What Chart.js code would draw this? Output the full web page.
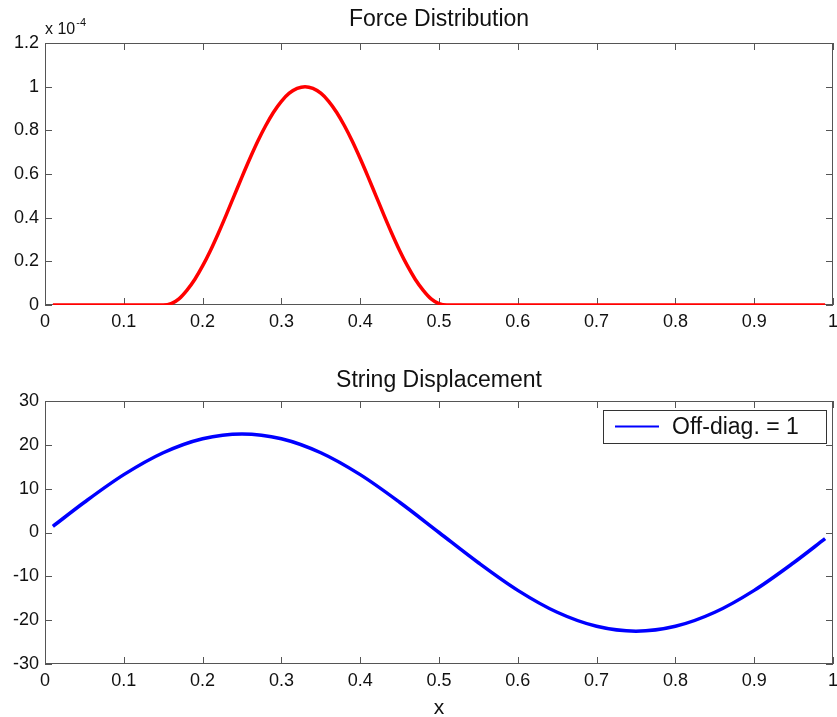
<!DOCTYPE html>
<html>
<head>
<meta charset="utf-8">
<script src="https://cdn.jsdelivr.net/npm/chart.js@4.4.0/dist/chart.umd.min.js"></script>
<style>
  html, body { margin: 0; padding: 0; background: #fff; }
  #wrap { position: relative; width: 837px; height: 717px; }
  canvas { position: absolute; left: 0; }
  #c1 { top: 0; }
  #c2 { top: 345px; }
</style>
</head>
<body>
<div id="wrap">
  <canvas id="c1" width="837" height="345"></canvas>
  <canvas id="c2" width="837" height="372"></canvas>
</div>
<script>
// ---- data ----
const forceTitle = "Force Distribution";
const forceX = [0.01, 0.15, 0.16, 0.17, 0.18, 0.19, 0.20, 0.21, 0.22, 0.23, 0.24, 0.25, 0.26, 0.27, 0.28, 0.29, 0.30, 0.31, 0.32, 0.33,
                0.34, 0.35, 0.36, 0.37, 0.38, 0.39, 0.40, 0.41, 0.42, 0.43, 0.44, 0.45, 0.46, 0.47, 0.48, 0.49, 0.50, 0.51, 0.99];
// values in units of 1e-4
const forceY = [0, 0, 0.006, 0.028, 0.067, 0.117, 0.179, 0.25, 0.329, 0.413, 0.5, 0.587, 0.671, 0.75, 0.821, 0.883, 0.933, 0.97, 0.992, 1,
                0.992, 0.97, 0.933, 0.883, 0.821, 0.75, 0.671, 0.587, 0.5, 0.413, 0.329, 0.25, 0.179, 0.117, 0.067, 0.028, 0.006, 0, 0];
const forceExponent = "-4";

const dispTitle = "String Displacement";
const dispLabel = "Off-diag. = 1";
const dispX = [0.01, 0.05, 0.10, 0.15, 0.20, 0.25, 0.30, 0.35, 0.40, 0.45, 0.50, 0.55, 0.60, 0.65, 0.70, 0.75, 0.80, 0.85, 0.90, 0.95, 0.99];
const dispY = [1.4, 6.9, 13.2, 18.2, 21.4, 22.5, 21.4, 18.2, 13.2, 6.9, 0, -6.9, -13.2, -18.2, -21.4, -22.5, -21.4, -18.2, -13.2, -6.9, -1.4];
const xAxisLabel = "x";

// ---- styling ----
const FONT = "'Liberation Sans', Arial, Helvetica, sans-serif";
Chart.defaults.font.family = FONT;
Chart.defaults.font.size = 18;
Chart.defaults.color = '#111';
const AXIS = '#555';

const fmt = v => String(parseFloat(Number(v).toFixed(2)));

const decoPlugin = {
  id: 'deco',
  beforeDatasetsDraw(chart, args, opts) {
    const { ctx, chartArea: a, scales: { x, y } } = chart;
    ctx.save();
    ctx.strokeStyle = AXIS;
    ctx.lineWidth = 1;
    ctx.strokeRect(Math.round(a.left) + 0.5, Math.round(a.top) + 0.5, Math.round(a.width) - 1, Math.round(a.height) - 1);
    const L = 7;
    ctx.beginPath();
    x.ticks.forEach(t => {
      const px = Math.round(x.getPixelForValue(t.value)) + 0.5;
      ctx.moveTo(px, a.bottom); ctx.lineTo(px, a.bottom - L);
      ctx.moveTo(px, a.top); ctx.lineTo(px, a.top + L);
    });
    y.ticks.forEach(t => {
      const py = Math.round(y.getPixelForValue(t.value)) + 0.5;
      ctx.moveTo(a.left, py); ctx.lineTo(a.left + L, py);
      ctx.moveTo(a.right, py); ctx.lineTo(a.right - L, py);
    });
    ctx.stroke();
    ctx.restore();
  },
  afterDraw(chart, args, opts) {
    const { ctx, chartArea: a } = chart;
    ctx.save();
    ctx.fillStyle = '#111';
    ctx.textAlign = 'center';
    ctx.textBaseline = 'middle';
    ctx.font = '23px ' + FONT;
    ctx.fillText(opts.title, (a.left + a.right) / 2, opts.titleY);
    if (opts.exponent) {
      ctx.textAlign = 'left';
      ctx.textBaseline = 'alphabetic';
      ctx.font = '16px ' + FONT;
      ctx.fillText('x 10', a.left, 34);
      const w = ctx.measureText('x 10').width;
      ctx.font = '11px ' + FONT;
      ctx.fillText(opts.exponent, a.left + w + 1, 26);
    }
    if (opts.legend) {
      const ds = chart.data.datasets[0];
      const bx = 603, by = 65, bw = 223, bh = 33;
      ctx.fillStyle = '#fff';
      ctx.fillRect(bx, by, bw, bh);
      ctx.strokeStyle = '#333';
      ctx.lineWidth = 1;
      ctx.strokeRect(bx + 0.5, by + 0.5, bw, bh);
      const cy = by + bh / 2;
      ctx.strokeStyle = ds.borderColor;
      ctx.lineWidth = 2;
      ctx.beginPath();
      ctx.moveTo(615, cy); ctx.lineTo(659, cy);
      ctx.stroke();
      ctx.fillStyle = '#111';
      ctx.textAlign = 'left';
      ctx.textBaseline = 'middle';
      ctx.font = '23px ' + FONT;
      ctx.fillText(ds.label, 672, cy + 1);
    }
    ctx.restore();
  }
};

function makeChart(id, xs, ys, color, label, yMin, yMax, yStep, padTop, xHeight, deco, xTitle) {
  return new Chart(document.getElementById(id), {
    type: 'line',
    data: {
      datasets: [{
        label: label,
        data: xs.map((v, i) => ({ x: v, y: ys[i] })),
        borderColor: color,
        backgroundColor: color,
        borderWidth: 3.5,
        pointRadius: 0,
        tension: 0.4,
        cubicInterpolationMode: 'monotone',
        fill: false
      }]
    },
    options: {
      responsive: false,
      animation: false,
      devicePixelRatio: 1,
      layout: { padding: { top: padTop, right: 4, left: 0, bottom: 0 } },
      plugins: { legend: { display: false }, tooltip: { enabled: false }, title: { display: false }, deco: deco },
      scales: {
        x: {
          type: 'linear', min: 0, max: 1,
          grid: { display: false, drawTicks: false },
          border: { display: false },
          ticks: { stepSize: 0.1, padding: 6, maxRotation: 0, autoSkip: false, color: '#111', callback: fmt },
          title: xTitle ? { display: true, text: xTitle, font: { size: 21 }, padding: { top: 0, bottom: -4 }, color: '#111' } : { display: false },
          afterFit(s) { s.height = xHeight; s.paddingLeft = 0; s.paddingRight = 0; }
        },
        y: {
          min: yMin, max: yMax,
          grid: { display: false, drawTicks: false },
          border: { display: false },
          ticks: { stepSize: yStep, padding: 6, color: '#111', callback: fmt },
          afterFit(s) { s.width = 45; s.paddingTop = 0; s.paddingBottom = 0; }
        }
      }
    },
    plugins: [decoPlugin]
  });
}

makeChart('c1', forceX, forceY, '#ff0000', 'Force', 0, 1.2, 0.2, 43, 40,
  { title: forceTitle, titleY: 20, exponent: forceExponent }, null);
makeChart('c2', dispX, dispY, '#0000ff', dispLabel, -30, 30, 10, 56, 53,
  { title: dispTitle, titleY: 36, legend: true }, xAxisLabel);
</script>
</body>
</html>
